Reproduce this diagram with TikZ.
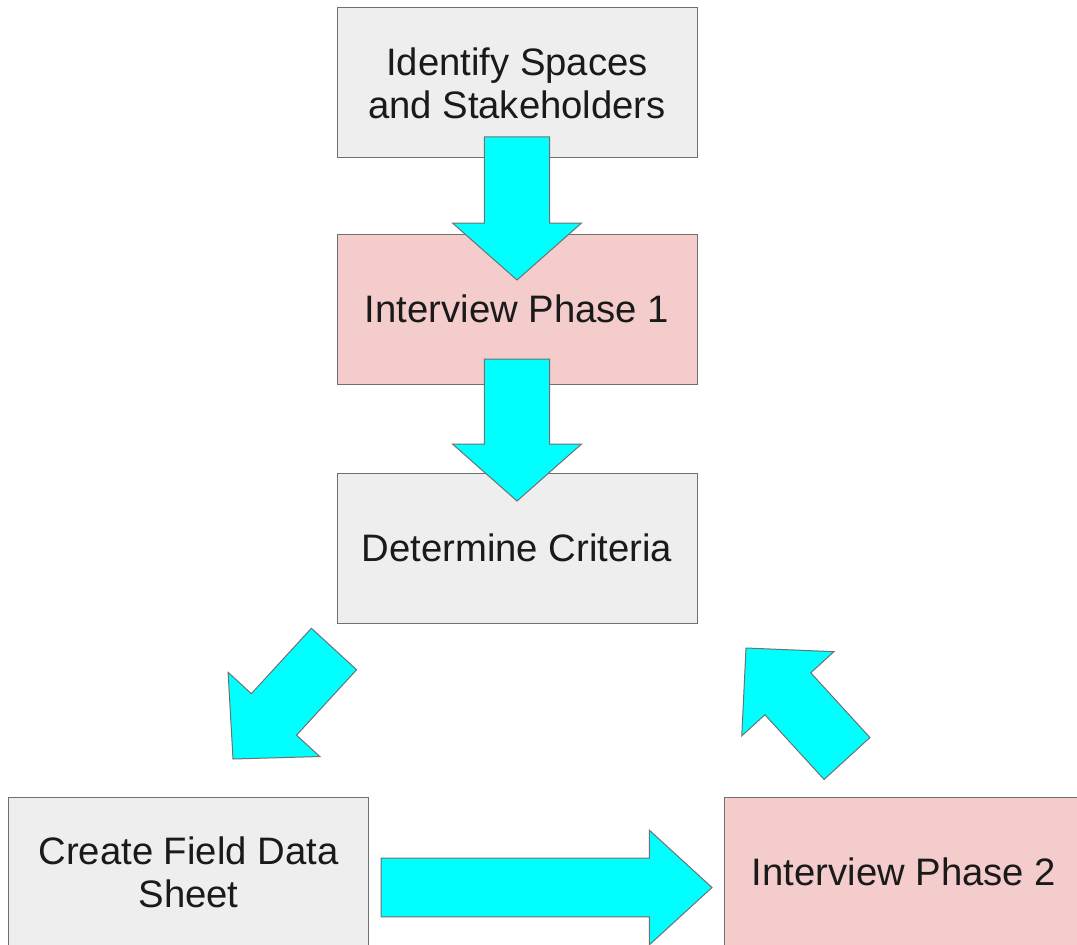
\documentclass[tikz,border=0pt]{standalone}
\usepackage{fontspec}
\setmainfont{Liberation Sans}
\usetikzlibrary{calc}

\definecolor{boxgrey}{HTML}{EEEEEE}
\definecolor{boxpink}{HTML}{F4CCCC}
\definecolor{edgegrey}{HTML}{707070}
\definecolor{flowcyan}{HTML}{00FFFF}
\definecolor{inkgrey}{HTML}{1A1A1A}

% block arrow: start, tip, shaft half width, head half width, head length
\newcommand{\flowarrow}[5]{%
  \coordinate (#1base) at ($(#2)!#5!(#1)$);
  \draw[cyan arrow] ($(#1)!#3!90:(#2)$) -- ($(#1base)!#3!90:(#2)$)
    -- ($(#1base)!#4!90:(#2)$) -- (#2) -- ($(#1base)!#4!-90:(#2)$)
    -- ($(#1base)!#3!-90:(#2)$) -- ($(#1)!#3!-90:(#2)$) -- cycle;}

\begin{document}
\begin{tikzpicture}[x=0.75pt,y=-0.75pt,
  box/.style={draw=edgegrey,line width=0.75pt,minimum width=270pt,minimum height=112.5pt,
    inner sep=0pt,align=center,text=inkgrey,font=\fontsize{28.7pt}{32pt}\selectfont},
  grey box/.style={box,fill=boxgrey},
  pink box/.style={box,fill=boxpink},
  cyan arrow/.style={fill=flowcyan,draw=edgegrey,line width=0.75pt,line join=miter}]

  \useasboundingbox (0,0) rectangle (1077,945);

  \node[grey box] (ident) at (517,83) {Identify Spaces\\and Stakeholders};
  \node[pink box] (phaseone) at (517,309) {Interview Phase 1};
  \node[grey box] (crit) at (517,548) {Determine Criteria};
  \node[grey box] (sheet) at (188.5,872) {Create Field Data\\Sheet};
  \node[pink box] (phasetwo) at (904,872) {Interview Phase 2};

  \coordinate (aones) at (517,137);
  \coordinate (aonee) at (517,280);
  \coordinate (atwos) at (517,359);
  \coordinate (atwoe) at (517,501);
  \coordinate (athrees) at (334,649);
  \coordinate (athreee) at (233,759);
  \coordinate (afives) at (381,887.5);
  \coordinate (afivee) at (712,887.5);
  \coordinate (afours) at (847,758.5);
  \coordinate (afoure) at (746,648);

  \flowarrow{aones}{aonee}{24.4pt}{48.4pt}{42.75pt}
  \flowarrow{atwos}{atwoe}{24.4pt}{48.4pt}{42.75pt}
  \flowarrow{athrees}{athreee}{23pt}{46.7pt}{45.4pt}
  \flowarrow{afives}{afivee}{22pt}{43pt}{47pt}
  \flowarrow{afours}{afoure}{23.3pt}{46.8pt}{46.5pt}
\end{tikzpicture}
\end{document}
